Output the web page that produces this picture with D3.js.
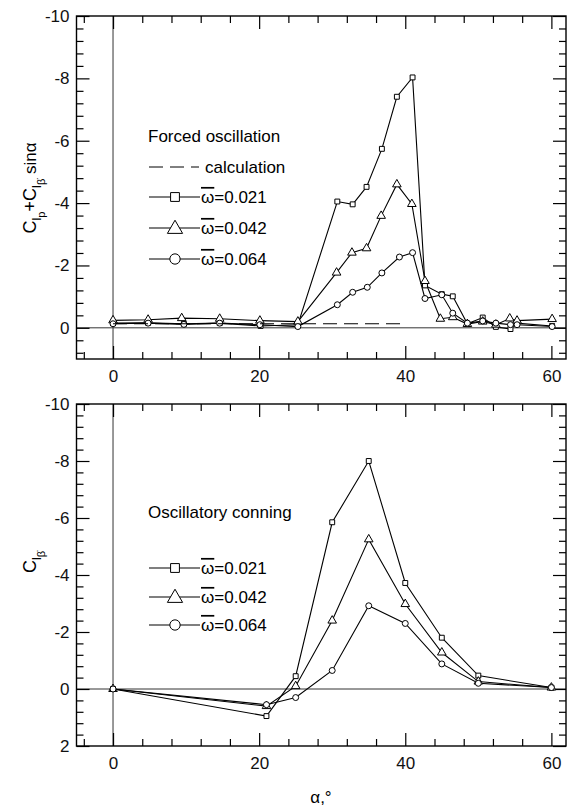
<!DOCTYPE html>
<html>
<head>
<meta charset="utf-8">
<script src="https://cdn.jsdelivr.net/npm/d3@7"></script>
<style>
  body { margin: 0; background: #fff; }
  svg { font-family: 'Liberation Sans', Arial, sans-serif; }
</style>
</head>
<body>
<div id="chart"></div>
<script>
// ---- data ----
// top panel: forced oscillation
const topAlpha021 = [0, 4.8, 9.7, 14.6, 20.2, 25.3, 30.7, 32.8, 34.7, 36.8, 38.85, 41.0, 42.7, 45.0, 46.5, 48.5, 50.6, 52.4, 54.4, 55.2, 60.1];
const topValue021 = [-0.15, -0.16, -0.13, -0.15, -0.06, -0.1, -4.05, -3.96, -4.52, -5.74, -7.41, -8.03, -1.36, -1.08, -1.01, -0.13, -0.33, -0.03, 0.04, -0.15, -0.06];
const topAlpha042 = [0, 4.8, 9.4, 14.6, 20.1, 25.3, 30.6, 32.7, 34.7, 36.7, 38.85, 40.9, 42.7, 44.8, 46.5, 48.5, 50.6, 52.4, 54.3, 55.3, 60.1];
const topValue042 = [-0.24, -0.26, -0.31, -0.29, -0.23, -0.2, -1.77, -2.41, -2.55, -3.59, -4.6, -3.97, -1.5, -0.29, -0.34, -0.12, -0.2, -0.1, -0.3, -0.23, -0.28];
const topAlpha064 = [0, 4.8, 9.7, 14.6, 20.1, 25.3, 30.7, 32.8, 34.8, 36.8, 39.2, 41.0, 42.7, 45.0, 46.5, 48.5, 50.6, 52.4, 54.4, 55.3, 60.1];
const topValue064 = [-0.13, -0.15, -0.11, -0.15, -0.1, -0.04, -0.74, -1.14, -1.30, -1.76, -2.27, -2.41, -0.94, -1.06, -0.47, -0.15, -0.22, -0.15, -0.1, -0.1, -0.04];
const calcAlpha = [0, 40];
const calcValue = [-0.13, -0.13];

// bottom panel: oscillatory coning
const botAlpha = [0, 21, 25, 30, 35, 40, 45, 50, 60];
const botValue021 = [0, 0.95, -0.45, -5.85, -8.0, -3.72, -1.8, -0.47, -0.05];
const botValue042 = [0, 0.6, -0.1, -2.4, -5.25, -2.98, -1.28, -0.26, -0.05];
const botValue064 = [0, 0.55, 0.3, -0.65, -2.92, -2.3, -0.88, -0.2, -0.05];

const omegaLabels = ['0.021', '0.042', '0.064'];
const xMajor = [0, 20, 40, 60];

const zip = (a, v) => a.map((d, i) => ({ a: d, v: v[i] }));

const width = 572, height = 810;
const fontSize = 17;
const $svg = d3.select('#chart').append('svg')
  .attr('width', width)
  .attr('height', height);

const x = d3.scaleLinear().domain([-5, 62]).range([76.5, 566]);
const yTop = d3.scaleLinear().domain([-10, 1]).range([16, 359]);
const yBot = d3.scaleLinear().domain([-10, 2]).range([404, 746]);

const shapes = [d3.symbolSquare, d3.symbolTriangle, d3.symbolCircle];
const markSize = [24, 32, 28];
const legendSize = [78, 100, 84];

function drawPanel(y, yMajor, series, legend) {
  const [y0, y1] = y.range();
  const [x0, x1] = x.range();
  const $g = $svg.append('g');

  // zero lines
  $g.append('line')
    .attr('x1', x(0)).attr('x2', x(0))
    .attr('y1', y0).attr('y2', y1)
    .attr('stroke', '#333').attr('stroke-width', 1);
  $g.append('line')
    .attr('x1', x0).attr('x2', x1)
    .attr('y1', y(0)).attr('y2', y(0))
    .attr('stroke', '#333').attr('stroke-width', 1);

  const yMinor = d3.range(y.domain()[0], y.domain()[1] + 0.001, 0.4)
    .map(d => +d.toFixed(1))
    .filter(d => !yMajor.includes(d));
  const xMinor = d3.range(-4, 61, 4).filter(d => !xMajor.includes(d));

  // axes, ticks pointing inward
  $g.append('g')
    .attr('transform', `translate(${x0},0)`)
    .call(d3.axisLeft(y).tickValues(yMajor).tickSize(-13).tickPadding(7)
      .tickFormat(d => String(d)));
  $g.append('g')
    .attr('transform', `translate(${x0},0)`)
    .call(d3.axisLeft(y).tickValues(yMinor).tickSize(-7).tickFormat(''));
  $g.append('g')
    .attr('transform', `translate(${x1},0)`)
    .call(d3.axisRight(y).tickValues(yMajor).tickSize(-13).tickFormat(''));
  $g.append('g')
    .attr('transform', `translate(${x1},0)`)
    .call(d3.axisRight(y).tickValues(yMinor).tickSize(-7).tickFormat(''));
  $g.append('g')
    .attr('transform', `translate(0,${y1})`)
    .call(d3.axisBottom(x).tickValues(xMajor).tickSize(-13).tickPadding(11)
      .tickFormat(d => String(d)));
  $g.append('g')
    .attr('transform', `translate(0,${y1})`)
    .call(d3.axisBottom(x).tickValues(xMinor).tickSize(-7).tickFormat(''));
  $g.append('g')
    .attr('transform', `translate(0,${y0})`)
    .call(d3.axisTop(x).tickValues(xMajor).tickSize(-13).tickFormat(''));
  $g.append('g')
    .attr('transform', `translate(0,${y0})`)
    .call(d3.axisTop(x).tickValues(xMinor).tickSize(-7).tickFormat(''));

  $g.selectAll('.domain').remove();
  $g.selectAll('.tick line').attr('stroke', '#000').attr('stroke-width', 1.2);
  $g.selectAll('.tick text')
    .attr('font-size', fontSize)
    .attr('fill', '#111')
    .attr('font-family', "'Liberation Sans', Arial, sans-serif");

  $g.append('rect')
    .attr('x', x0).attr('y', y0)
    .attr('width', x1 - x0).attr('height', y1 - y0)
    .attr('fill', 'none').attr('stroke', '#000').attr('stroke-width', 1.4);

  const line = d3.line().x(d => x(d.a)).y(d => y(d.v));

  series.forEach((s, i) => {
    $g.append('path')
      .attr('d', line(s))
      .attr('fill', 'none')
      .attr('stroke', '#000')
      .attr('stroke-width', 1.1);
  });
  series.forEach((s, i) => {
    $g.selectAll(null)
      .data(s)
      .enter()
      .append('path')
      .attr('transform', d => `translate(${x(d.a)},${y(d.v)})`)
      .attr('d', d3.symbol(shapes[i], markSize[i]))
      .attr('fill', '#fff')
      .attr('stroke', '#000')
      .attr('stroke-width', 1);
  });

  // legend
  const lx = 149;
  $g.append('text')
    .attr('x', lx - 1).attr('y', legend.titleY)
    .attr('dy', '0.35em')
    .attr('font-size', fontSize)
    .text(legend.title);

  if (legend.calcY) {
    $g.append('line')
      .attr('x1', lx).attr('x2', lx + 50)
      .attr('y1', legend.calcY).attr('y2', legend.calcY)
      .attr('stroke', '#000').attr('stroke-dasharray', '14,7');
    $g.append('text')
      .attr('x', lx + 56).attr('y', legend.calcY)
      .attr('dy', '0.35em')
      .attr('font-size', fontSize)
      .text('calculation');
  }

  legend.rows.forEach((ry, i) => {
    $g.append('line')
      .attr('x1', lx).attr('x2', lx + 51)
      .attr('y1', ry).attr('y2', ry)
      .attr('stroke', '#000').attr('stroke-width', 1.1);
    $g.append('path')
      .attr('transform', `translate(${lx + 26},${ry + (i === 1 ? 1 : 0)})`)
      .attr('d', d3.symbol(shapes[i], legendSize[i]))
      .attr('fill', '#fff').attr('stroke', '#000').attr('stroke-width', 1);
    const t = $g.append('text')
      .attr('x', lx + 52).attr('y', ry)
      .attr('dy', '0.35em')
      .attr('font-size', fontSize);
    t.append('tspan')
      .style('text-decoration', 'overline')
      .text('ω');
    t.append('tspan').text('=' + omegaLabels[i]);
  });
}

drawPanel(yTop, [-10, -8, -6, -4, -2, 0],
  [zip(topAlpha021, topValue021), zip(topAlpha042, topValue042), zip(topAlpha064, topValue064)],
  { title: 'Forced oscillation', titleY: 136, calcY: 167, rows: [197, 228, 259] });

// calculation (dashed) line in top panel
$svg.append('path')
  .attr('d', d3.line().x(d => x(d.a)).y(d => yTop(d.v))(zip(calcAlpha, calcValue)))
  .attr('fill', 'none')
  .attr('stroke', '#000')
  .attr('stroke-width', 1)
  .attr('stroke-dasharray', '14,7');

drawPanel(yBot, [-10, -8, -6, -4, -2, 0, 2],
  [zip(botAlpha, botValue021), zip(botAlpha, botValue042), zip(botAlpha, botValue064)],
  { title: 'Oscillatory conning', titleY: 512, rows: [568, 597, 625] });

// axis titles
const topTitle = $svg.append('text')
  .attr('transform', 'translate(36,188) rotate(-90)')
  .attr('text-anchor', 'middle')
  .attr('font-size', 18);
topTitle.append('tspan').text('C');
topTitle.append('tspan').attr('dy', 5).attr('font-size', 13).text('l');
topTitle.append('tspan').attr('dy', 4).attr('font-size', 11).text('p');
topTitle.append('tspan').attr('dy', -9).attr('font-size', 18).text('+C');
topTitle.append('tspan').attr('dy', 5).attr('font-size', 13).text('l');
topTitle.append('tspan').attr('dy', 4).attr('font-size', 11).text('β̇');
topTitle.append('tspan').attr('dy', -9).attr('font-size', 17).text(' sinα');

const botTitle = $svg.append('text')
  .attr('transform', 'translate(36,562) rotate(-90)')
  .attr('text-anchor', 'middle')
  .attr('font-size', 18);
botTitle.append('tspan').text('C');
botTitle.append('tspan').attr('dy', 5).attr('font-size', 13).text('l');
botTitle.append('tspan').attr('dy', 4).attr('font-size', 11).text('β̇');

$svg.append('text')
  .attr('x', 321).attr('y', 797)
  .attr('dy', '0.35em')
  .attr('text-anchor', 'middle')
  .attr('font-size', fontSize)
  .text('α,°');
</script>
</body>
</html>
